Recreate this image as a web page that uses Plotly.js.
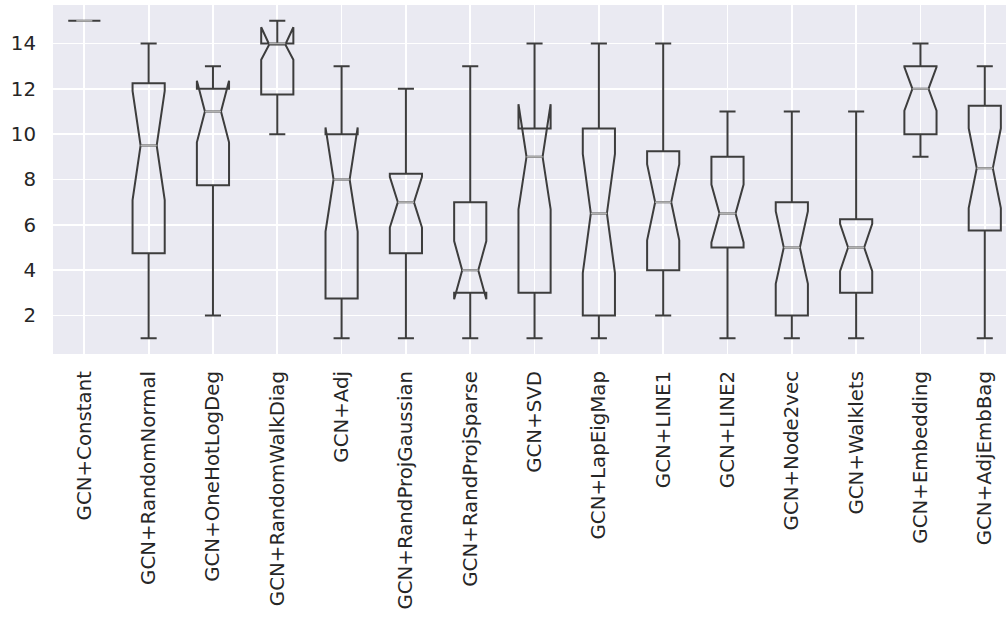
<!DOCTYPE html>
<html>
<head>
<meta charset="utf-8">
<script src="https://cdn.plot.ly/plotly-3.0.1.min.js"></script>
<style>
  html, body { margin: 0; padding: 0; background: #ffffff; }
  #chart { width: 1006px; height: 618px; }
</style>
</head>
<body>
<div id="chart"></div>
<script>
// Ranking of each GCN feature variant: precomputed box statistics
const categories = [
  "GCN+Constant", "GCN+RandomNormal", "GCN+OneHotLogDeg", "GCN+RandomWalkDiag",
  "GCN+Adj", "GCN+RandProjGaussian", "GCN+RandProjSparse", "GCN+SVD",
  "GCN+LapEigMap", "GCN+LINE1", "GCN+LINE2", "GCN+Node2vec",
  "GCN+Walklets", "GCN+Embedding", "GCN+AdjEmbBag"
];
const lowerWhisker = [15, 1, 2, 10, 1, 1, 1, 1, 1, 2, 1, 1, 1, 9, 1];
const q1Values     = [15, 4.75, 7.75, 11.75, 2.75, 4.75, 3, 3, 2, 4, 5, 2, 3, 10, 5.75];
const medians      = [15, 9.5, 11, 14, 8, 7, 4, 9, 6.5, 7, 6.5, 5, 5, 12, 8.5];
const q3Values     = [15, 12.25, 12, 14, 10, 8.25, 7, 10.25, 10.25, 9.25, 9, 7, 6.25, 13, 11.25];
const upperWhisker = [15, 14, 13, 15, 13, 12, 13, 14, 14, 14, 11, 11, 11, 14, 13];
const notchSpans   = [0, 2.41, 1.36, 0.72, 2.3, 1.12, 1.28, 2.32, 2.63, 1.68, 1.28, 1.6, 1.04, 0.96, 1.76];
const yTicks = [2, 4, 6, 8, 10, 12, 14];

const positions = categories.map((_, i) => i);
const boxWidth = 0.5;
const waistHalf = boxWidth / 4;

const boxes = {
  type: "box",
  x: positions,
  q1: q1Values,
  median: medians,
  q3: q3Values,
  lowerfence: lowerWhisker,
  upperfence: upperWhisker,
  notchspan: notchSpans,
  notched: true,
  notchwidth: 0.25,
  whiskerwidth: 0.5,
  width: boxWidth,
  boxpoints: false,
  fillcolor: "rgba(0,0,0,0)",
  line: { color: "#3d3d3d", width: 2 },
  hoverinfo: "skip",
  showlegend: false
};

// light median segments across the notch waist
const mx = [], my = [];
positions.forEach((p, i) => {
  mx.push(p - waistHalf, p + waistHalf, null);
  my.push(medians[i], medians[i], null);
});
const medianLines = {
  type: "scatter",
  mode: "lines",
  x: mx,
  y: my,
  line: { color: "#b3b3b3", width: 1.6 },
  hoverinfo: "skip",
  showlegend: false
};

const font = { family: "DejaVu Sans, sans-serif", size: 19.8, color: "#262626" };

const layout = {
  width: 1006,
  height: 618,
  margin: { l: 53, r: 0, t: 5, b: 264 },
  paper_bgcolor: "#ffffff",
  plot_bgcolor: "#EAEAF2",
  font: font,
  showlegend: false,
  xaxis: {
    range: [-0.487, 14.33],
    tickmode: "array",
    tickvals: positions,
    ticktext: categories,
    tickangle: -90,
    ticks: "",
    ticklabelstandoff: 12,
    showgrid: true,
    gridcolor: "#ffffff",
    gridwidth: 1.8,
    zeroline: false,
    showline: false,
    tickfont: font
  },
  yaxis: {
    range: [0.3, 15.7],
    tickmode: "array",
    tickvals: yTicks,
    ticks: "",
    ticklabelstandoff: 16,
    showgrid: true,
    gridcolor: "#ffffff",
    gridwidth: 1.8,
    zeroline: false,
    showline: false,
    tickfont: font
  }
};

Plotly.newPlot("chart", [boxes, medianLines], layout, { displayModeBar: false, staticPlot: true });
</script>
</body>
</html>
